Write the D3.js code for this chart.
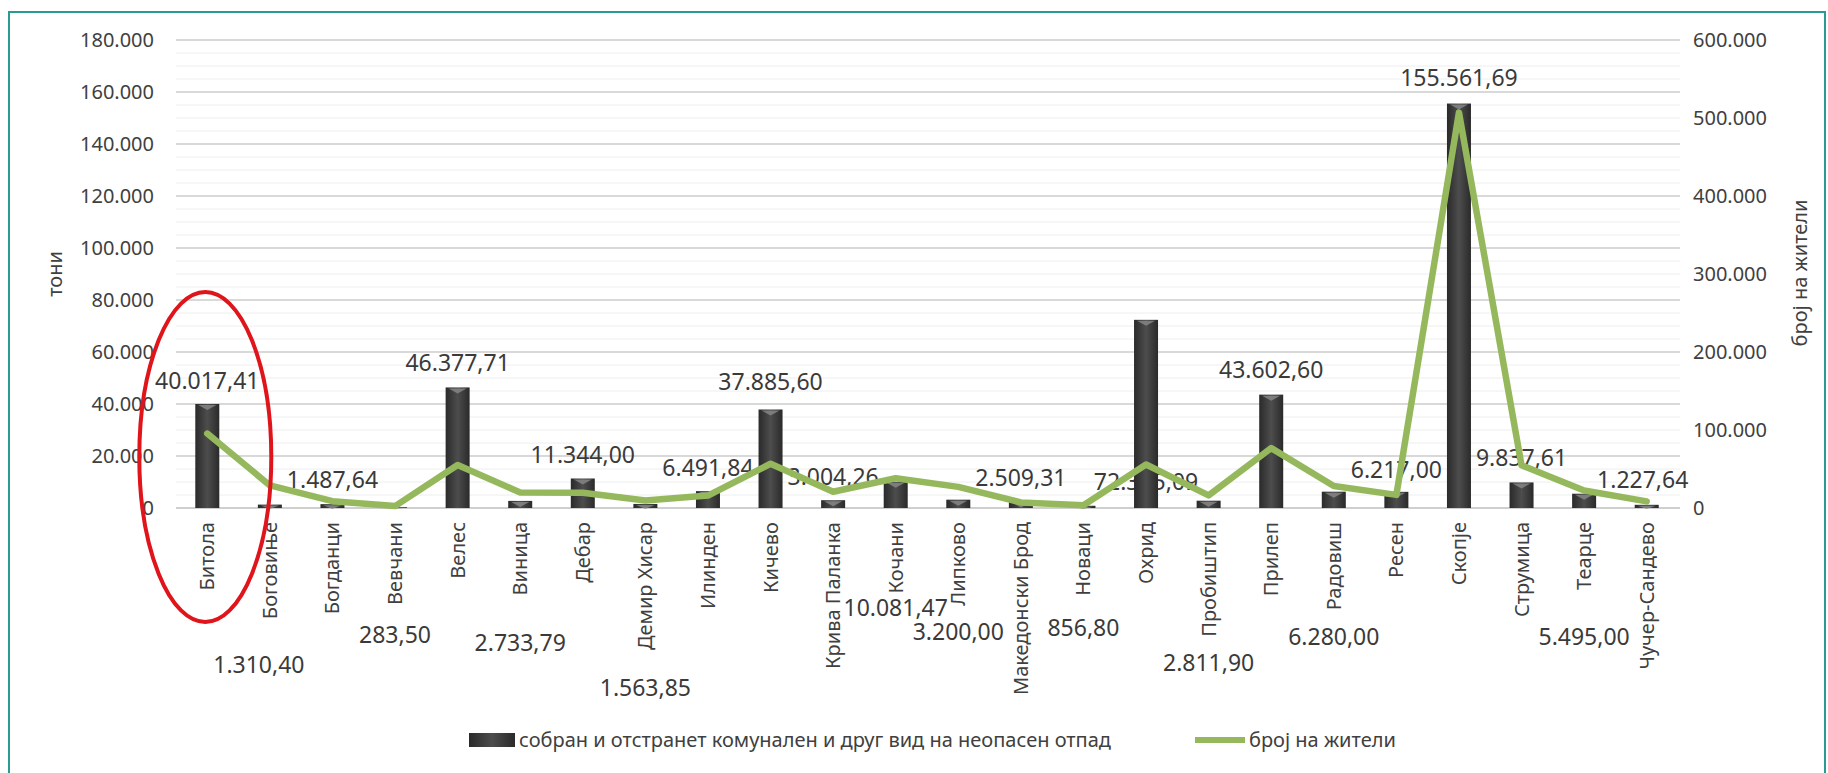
<!DOCTYPE html>
<html>
<head>
<meta charset="utf-8">
<script src="https://cdn.jsdelivr.net/npm/d3@7"></script>
<style>
  html, body { margin: 0; padding: 0; background: #fff; }
  svg { display: block; font-family: "Noto Sans", "Open Sans", sans-serif; }
</style>
</head>
<body>
<svg id="chart"></svg>
<script>
const municipalities = ["Битола", "Боговиње", "Богданци", "Вевчани", "Велес", "Виница", "Дебар", "Демир Хисар",
  "Илинден", "Кичево", "Крива Паланка", "Кочани", "Липково", "Македонски Брод", "Новаци", "Охрид",
  "Пробиштип", "Прилеп", "Радовиш", "Ресен", "Скопје", "Струмица", "Теарце", "Чучер-Сандево"];

// собран отпад, тони
const waste = [40017.41, 1310.40, 1487.64, 283.50, 46377.71, 2733.79, 11344.00, 1563.85,
  6491.84, 37885.60, 3004.26, 10081.47, 3200.00, 2509.31, 856.80, 72375.09,
  2811.90, 43602.60, 6280.00, 6217.00, 155561.69, 9837.61, 5495.00, 1227.64];

// број на жители
const population = [95385, 28997, 8707, 2433, 55108, 19938, 19542, 9497,
  15894, 56734, 20820, 38092, 27058, 7141, 3549, 55749,
  16193, 76768, 28244, 16825, 506926, 54676, 22454, 8493];

const leftTicks = [0, 20000, 40000, 60000, 80000, 100000, 120000, 140000, 160000, 180000];
const rightTicks = [0, 100000, 200000, 300000, 400000, 500000, 600000];

// where each data label sits, in tonnes on the left axis (as placed in the original)
const labelAt = [49000, -60400, 10800, -48900, 55800, -51900, 20400, -69200,
  15400, 48500, 11900, -38500, -47700, 11500, -46200, 10000,
  -59600, 53100, -49600, 14600, 165400, 19200, -49600, 10800];
const labelShift = [0, -11, 0, 0, 0, 0, 0, 0, 0, 0, 0, 0, 0, 0, 0, 0, 0, 0, 0, 0, 0, 0, 0, -4];

const width = 1828, height = 773,
      margin = {top: 40, bottom: 265, left: 176, right: 150};

const svg = d3.select("#chart").attr("width", width).attr("height", height);

const mk = d3.formatLocale({decimal: ",", thousands: ".", grouping: [3], currency: ["", ""]});
const fmtTick = mk.format(",.0f"), fmtLabel = mk.format(",.2f");

const x = d3.scaleBand()
  .domain(municipalities)
  .range([margin.left, width - margin.right]);

const y = d3.scaleLinear().domain([0, 180000]).range([height - margin.bottom, margin.top]);
const y2 = d3.scaleLinear().domain([0, 600000]).range([height - margin.bottom, margin.top]);

const cx = d => x(d) + x.bandwidth() / 2;

// frame
svg.append("rect")
  .attr("x", 9).attr("y", 12).attr("width", 1816).attr("height", 770)
  .attr("fill", "none").attr("stroke", "#2a9a97").attr("stroke-width", 2);

// gridlines
const grid = svg.append("g").attr("class", "grid");
grid.selectAll(".minor")
  .data(d3.range(0, 180001, 5000).filter(v => v % 20000 !== 0))
  .join("line")
  .attr("x1", margin.left).attr("x2", width - margin.right + 2)
  .attr("y1", d => y(d)).attr("y2", d => y(d))
  .attr("stroke", "#eeeeee").attr("stroke-width", 1);
grid.selectAll(".major")
  .data(leftTicks)
  .join("line")
  .attr("x1", margin.left).attr("x2", width - margin.right + 2)
  .attr("y1", d => y(d)).attr("y2", d => y(d))
  .attr("stroke", d => d === 0 ? "#cfcfcf" : "#d9d9d9").attr("stroke-width", 2);

// axes
const yAxis = svg.append("g")
  .attr("transform", `translate(${margin.left - 22},0)`)
  .call(d3.axisLeft(y).tickValues(leftTicks).tickFormat(fmtTick).tickSize(0).tickPadding(0));
const y2Axis = svg.append("g")
  .attr("transform", `translate(${width - margin.right + 15},0)`)
  .call(d3.axisRight(y2).tickValues(rightTicks).tickFormat(fmtTick).tickSize(0).tickPadding(0));
const xAxis = svg.append("g")
  .attr("transform", `translate(0,${height - margin.bottom})`)
  .call(d3.axisBottom(x).tickSize(0).tickPadding(0));

[yAxis, y2Axis, xAxis].forEach(a => {
  a.select(".domain").remove();
  a.selectAll("text").attr("fill", "#404040").style("font-size", "20px")
    .style("font-family", "'Noto Sans', 'Open Sans', sans-serif");
});

xAxis.selectAll("text")
  .attr("transform", "rotate(-90)")
  .attr("text-anchor", "end")
  .attr("x", -14)
  .attr("y", 0)
  .attr("dy", "0.35em");

// axis titles
svg.append("text")
  .attr("transform", `translate(55,274) rotate(-90)`)
  .attr("text-anchor", "middle").attr("dy", "0.35em")
  .attr("fill", "#404040").style("font-size", "20px")
  .text("тони");
svg.append("text")
  .attr("transform", `translate(1800,273) rotate(-90)`)
  .attr("text-anchor", "middle").attr("dy", "0.35em")
  .attr("fill", "#404040").style("font-size", "20px")
  .text("број на жители");

// bar gradient
const defs = svg.append("defs");
const grad = defs.append("linearGradient").attr("id", "barGrad")
  .attr("x1", "0%").attr("x2", "100%").attr("y1", "0%").attr("y2", "0%");
grad.append("stop").attr("offset", "0%").attr("stop-color", "#2a2a2a");
grad.append("stop").attr("offset", "50%").attr("stop-color", "#4d4d4d");
grad.append("stop").attr("offset", "100%").attr("stop-color", "#2a2a2a");

// data labels (drawn below bars and line, as in the original)
svg.append("g").selectAll("text")
  .data(municipalities)
  .join("text")
  .attr("x", (d, i) => cx(d) + labelShift[i])
  .attr("y", (d, i) => y(labelAt[i]))
  .attr("dy", "0.35em")
  .attr("text-anchor", "middle")
  .attr("fill", "#3a3a3a")
  .style("font-size", "23px")
  .text((d, i) => fmtLabel(waste[i]));

// bars
const barW = 24;
const bars = svg.append("g").selectAll("g")
  .data(municipalities)
  .join("g");
bars.append("rect")
  .attr("x", d => cx(d) - barW / 2)
  .attr("y", (d, i) => y(waste[i]))
  .attr("width", barW)
  .attr("height", (d, i) => y(0) - y(waste[i]))
  .attr("fill", "url(#barGrad)");
bars.append("path")
  .attr("d", (d, i) => {
    const h = Math.min(5, y(0) - y(waste[i]));
    const l = cx(d) - barW / 2 + 3, r = cx(d) + barW / 2 - 3, t = y(waste[i]) + 1;
    return `M${l},${t} L${r},${t} L${cx(d)},${t + h} Z`;
  })
  .attr("fill", "#8a8a8a").attr("opacity", 0.8);

// population line
svg.append("path")
  .datum(population)
  .attr("fill", "none")
  .attr("stroke", "#96b85c")
  .attr("stroke-width", 6.5)
  .attr("stroke-linejoin", "round")
  .attr("stroke-linecap", "round")
  .attr("d", d3.line().x((d, i) => cx(municipalities[i])).y(d => y2(d)));

// red highlight around Битола
svg.append("ellipse")
  .attr("cx", cx("Битола") - 2).attr("cy", 457)
  .attr("rx", 66).attr("ry", 165)
  .attr("fill", "none").attr("stroke", "#e0141b").attr("stroke-width", 4);

// legend
const legend = svg.append("g").attr("transform", "translate(469,740)");
legend.append("rect").attr("x", 0).attr("y", -7).attr("width", 46).attr("height", 14)
  .attr("fill", "url(#barGrad)");
legend.append("text").attr("x", 50).attr("dy", "0.35em")
  .attr("fill", "#404040").style("font-size", "20px")
  .text("собран и отстранет комунален и друг вид на неопасен отпад");
legend.append("line").attr("x1", 726).attr("x2", 776).attr("y1", 0).attr("y2", 0)
  .attr("stroke", "#96b85c").attr("stroke-width", 6);
legend.append("text").attr("x", 780).attr("dy", "0.35em")
  .attr("fill", "#404040").style("font-size", "20px")
  .text("број на жители");
</script>
</body>
</html>
